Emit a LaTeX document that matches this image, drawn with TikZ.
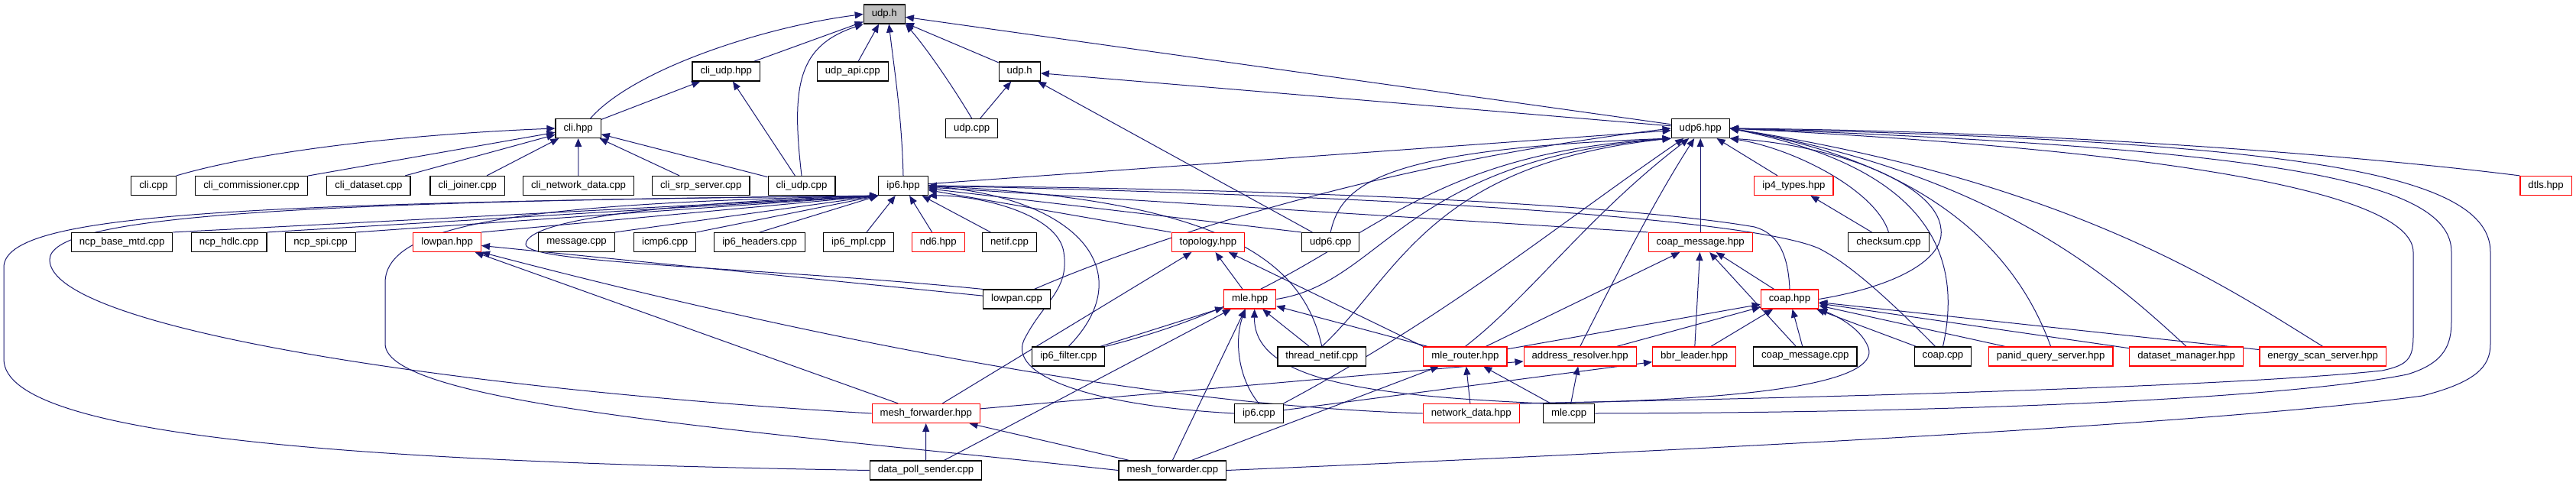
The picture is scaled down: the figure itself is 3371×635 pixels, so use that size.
\documentclass[tikz,border=0pt]{standalone}
\usepackage{fontspec}
\setmainfont{Liberation Sans}
\usetikzlibrary{arrows.meta}
\definecolor{edge}{HTML}{191970}
\definecolor{cutred}{HTML}{FF0000}
\definecolor{rootgray}{HTML}{BFBFBF}
\pgfdeclarelayer{wires}
\pgfsetlayers{wires,main}

\begin{document}
\begin{tikzpicture}[x=1pt,y=-1pt,>={Triangle[length=11pt,width=9pt]},
box/.style={draw,line width=1.2pt,fill=white,minimum height=25pt,inner xsep=10.5pt,
inner ysep=0pt,font=\fontsize{13.2}{15}\selectfont},
cut/.style={box,draw=cutred},
dep/.style={->,draw=edge,line width=1pt}]
\useasboundingbox (0,0) rectangle (3371,635);
\node[box,fill=rootgray] (udph) at (1157.3,18.5) {udp.h};
\node[box] (cliudphpp) at (950.3,93.5) {cli\_udp.hpp};
\node[box] (udpapi) at (1115.8,93.5) {udp\_api.cpp};
\node[box] (udphb) at (1334.2,93.5) {udp.h};
\node[box] (clihpp) at (756.6,168) {cli.hpp};
\node[box] (udpcpp) at (1271.7,168) {udp.cpp};
\node[box] (udpsixhpp) at (2225.2,168) {udp6.hpp};
\node[box] (clicpp) at (201,243) {cli.cpp};
\node[box] (clicomm) at (329,243) {cli\_commissioner.cpp};
\node[box] (clidataset) at (482.4,243) {cli\_dataset.cpp};
\node[box] (clijoiner) at (611.7,243) {cli\_joiner.cpp};
\node[box] (clinetdata) at (757,243) {cli\_network\_data.cpp};
\node[box] (clisrp) at (917.2,243) {cli\_srp\_server.cpp};
\node[box] (cliudpcpp) at (1049,243) {cli\_udp.cpp};
\node[box] (ipsixhpp) at (1182,243) {ip6.hpp};
\node[cut] (ipfourtypes) at (2347.4,243) {ip4\_types.hpp};
\node[cut] (dtls) at (3331.5,243) {dtls.hpp};
\node[box] (ncpbase) at (159.6,317) {ncp\_base\_mtd.cpp};
\node[box] (ncphdlc) at (299.7,317) {ncp\_hdlc.cpp};
\node[box] (ncpspi) at (419.5,317) {ncp\_spi.cpp};
\node[cut] (lowpanhpp) at (585.1,317) {lowpan.hpp};
\node[box] (message) at (754.5,317) {message.cpp};
\node[box] (icmp) at (870.2,317) {icmp6.cpp};
\node[box] (ipheaders) at (994.1,317) {ip6\_headers.cpp};
\node[box] (ipmpl) at (1123.7,317) {ip6\_mpl.cpp};
\node[cut] (ndsix) at (1227.8,317) {nd6.hpp};
\node[box] (netif) at (1321,317) {netif.cpp};
\node[cut] (topology) at (1580.9,317) {topology.hpp};
\node[box] (udpsixcpp) at (1741.2,317) {udp6.cpp};
\node[cut] (coapmsghpp) at (2225.2,317) {coap\_message.hpp};
\node[box] (checksum) at (2471.5,317) {checksum.cpp};
\node[box] (lowpancpp) at (1330.5,391.5) {lowpan.cpp};
\node[cut] (mlehpp) at (1635.7,391.5) {mle.hpp};
\node[cut] (coaphpp) at (2342,391.5) {coap.hpp};
\node[box] (ipfilter) at (1398.3,466.5) {ip6\_filter.cpp};
\node[box] (threadnetif) at (1729.8,466.5) {thread\_netif.cpp};
\node[cut] (mlerouter) at (1917.4,466.5) {mle\_router.hpp};
\node[cut] (addrres) at (2067.7,466.5) {address\_resolver.hpp};
\node[cut] (bbrleader) at (2217.1,466.5) {bbr\_leader.hpp};
\node[box] (coapmsgcpp) at (2362.3,466.5) {coap\_message.cpp};
\node[box] (coapcpp) at (2542.5,466.5) {coap.cpp};
\node[cut] (panid) at (2683.6,466.5) {panid\_query\_server.hpp};
\node[cut] (datasetmgr) at (2861.1,466.5) {dataset\_manager.hpp};
\node[cut] (energyscan) at (3039.7,466.5) {energy\_scan\_server.hpp};
\node[cut] (meshfwdhpp) at (1211.8,541) {mesh\_forwarder.hpp};
\node[box] (ipsixcpp) at (1647.3,541) {ip6.cpp};
\node[cut] (netdata) at (1925.2,541) {network\_data.hpp};
\node[box] (mlecpp) at (2053.1,541) {mle.cpp};
\node[box] (datapoll) at (1211.5,615.5) {data\_poll\_sender.cpp};
\node[box] (meshfwdcpp) at (1534.3,615.5) {mesh\_forwarder.cpp};
\begin{pgfonlayer}{wires}
\draw[dep] ([xshift=16]clihpp.north) .. controls (830,90) and (1000,35) .. (udph.west);
\draw[dep] (cliudphpp) -- (udph);
\draw[dep] (cliudpcpp.north) .. controls (1035,110) and (1045,60) .. (udph.south west);
\draw[dep] (udpapi) -- (udph);
\draw[dep] (ipsixhpp.north) .. controls (1180,150) and (1170,90) .. ([xshift=6]udph.south);
\draw[dep] (udpcpp.north) .. controls (1245,110) and (1210,60) .. (udph.south east);
\draw[dep] (udphb) -- (udph);
\draw[dep] (udpsixhpp) -- (udph);
\draw[dep] (udpcpp) -- (udphb);
\draw[dep] (udpsixhpp) -- (udphb);
\draw[dep] (udpsixcpp) -- (udphb);
\draw[dep] (clihpp) -- (cliudphpp);
\draw[dep] (cliudpcpp) -- (cliudphpp);
\draw[dep] (clicpp.north east) .. controls (350,195) and (550,175) .. (clihpp.west);
\draw[dep] (clicomm) -- (clihpp);\draw[dep] (clidataset) -- (clihpp);
\draw[dep] (clijoiner) -- (clihpp);\draw[dep] (clinetdata) -- (clihpp);
\draw[dep] (clisrp) -- (clihpp);\draw[dep] (cliudpcpp) -- (clihpp);
\draw[dep] (ncpbase.north east) -- (ipsixhpp.south west);\draw[dep] (ncphdlc.north east) -- (ipsixhpp.south west);
\draw[dep] (ncpspi.north east) -- (ipsixhpp.south west);\draw[dep] (lowpanhpp.north east) -- (ipsixhpp.south west);
\draw[dep] (message.north east) -- (ipsixhpp.south west);\draw[dep] (icmp.north east) -- (ipsixhpp.south west);
\draw[dep] (ipheaders.north) -- (ipsixhpp.south west);\draw[dep] (ipmpl) -- (ipsixhpp);
\draw[dep] (ndsix) -- (ipsixhpp);\draw[dep] (netif) -- (ipsixhpp);
\draw[dep] (topology.north west) -- (ipsixhpp);\draw[dep] (udpsixcpp.north west) -- (ipsixhpp);
\draw[dep] (coapmsghpp.north west) -- (ipsixhpp);
\draw[dep] (datapoll.west) .. controls (500,605) and (5,575) .. (5,470) -- (5,350) .. controls (5,280) and (300,266) .. (ipsixhpp.south west);
\draw[dep] (meshfwdhpp.west) .. controls (600,510) and (65,430) .. (65,340) .. controls (65,285) and (350,264) .. (ipsixhpp.south west);
\draw[dep] (meshfwdcpp.west) .. controls (1000,565) and (504,530) .. (504,450) -- (504,370) .. controls (504,290) and (700,266) .. (ipsixhpp.south west);
\draw[dep] (lowpancpp.north west) .. controls (1000,350) and (690,345) .. (688,320) .. controls (688,285) and (900,264) .. (ipsixhpp.south west);
\draw[dep] (coaphpp.north) .. controls (2340,330) and (2325,305) .. (2296,297) .. controls (2200,280) and (1900,250) .. (ipsixhpp.east);
\draw[dep] ([xshift=-10]coapcpp.north) .. controls (2470,390) and (2420,345) .. (2380,325) .. controls (2300,290) and (1900,258) .. (ipsixhpp.east);
\draw[dep] (threadnetif.north) .. controls (1705,340) and (1600,262) .. (ipsixhpp.east);
\draw[dep] (ipfilter.north) .. controls (1490,360) and (1420,262) .. (ipsixhpp.east);
\draw[dep] (ipsixcpp.west) .. controls (1420,530) and (1320,490) .. (1340,445) .. controls (1365,395) and (1400,380) .. (1392,330) .. controls (1385,280) and (1280,255) .. (ipsixhpp.south east);
\draw[dep] (ipsixhpp) -- (udpsixhpp);
\draw[dep] ([xshift=23]lowpancpp.north) .. controls (1500,315) and (1800,215) .. (udpsixhpp.west);
\draw[dep] (udpsixcpp.north) .. controls (1755,240) and (1810,195) .. (udpsixhpp.south west);
\draw[dep] (ipfilter.north east) .. controls (1780,370) and (1800,205) .. (udpsixhpp.south west);
\draw[dep] (mlehpp.east) .. controls (1810,370) and (1835,210) .. (udpsixhpp.south west);
\draw[dep] (threadnetif.north) .. controls (1830,360) and (1870,215) .. (udpsixhpp.south west);
\draw[dep] (ipsixcpp.north east) .. controls (1900,410) and (2030,300) .. ([xshift=-22]udpsixhpp.south);
\draw[dep] (mlerouter.north) .. controls (2000,390) and (2080,280) .. ([xshift=-15]udpsixhpp.south);
\draw[dep] (addrres.north) .. controls (2100,390) and (2160,270) .. ([xshift=-8]udpsixhpp.south);
\draw[dep] (coapmsghpp) -- (udpsixhpp);
\draw[dep] (ipfourtypes) -- (udpsixhpp);
\draw[dep] (checksum) -- (ipfourtypes);
\draw[dep] (checksum.north) .. controls (2455,250) and (2350,195) .. (udpsixhpp.south east);
\draw[dep] (coaphpp.east) .. controls (2480,375) and (2545,340) .. (2540,300) .. controls (2535,240) and (2400,190) .. (udpsixhpp.south east);
\draw[dep] (coapcpp.north) .. controls (2570,330) and (2520,220) .. (udpsixhpp.east);
\draw[dep] (panid.north) .. controls (2650,360) and (2560,220) .. (udpsixhpp.east);
\draw[dep] (datasetmgr.north) .. controls (2770,370) and (2620,230) .. (udpsixhpp.east);
\draw[dep] (energyscan.north) .. controls (2920,380) and (2720,240) .. (udpsixhpp.east);
\draw[dep] (dtls.north west) .. controls (3100,205) and (2700,172) .. (udpsixhpp.east);
\draw[dep] (netdata.north east) .. controls (2300,522) and (2900,508) .. (3117,485) .. controls (3150,478) and (3158,470) .. (3158,440) -- (3158,330) .. controls (3158,260) and (2900,200) .. (udpsixhpp.east);
\draw[dep] (mlecpp.east) .. controls (2600,540) and (3000,520) .. (3150,490) .. controls (3200,475) and (3208,450) .. (3208,420) -- (3208,330) .. controls (3208,240) and (3000,195) .. (udpsixhpp.east);
\draw[dep] (meshfwdcpp.east) .. controls (2200,590) and (2900,555) .. (3170,518) .. controls (3240,500) and (3259,480) .. (3259,450) -- (3259,330) .. controls (3259,225) and (3000,185) .. (udpsixhpp.east);
\draw[dep] (datapoll) -- (meshfwdhpp);\draw[dep] (meshfwdcpp) -- (meshfwdhpp);
\draw[dep] ([xshift=24]datapoll.north) -- (mlehpp);\draw[dep] (meshfwdcpp.north) -- (mlehpp);
\draw[dep] ([xshift=25]meshfwdcpp.north) -- (mlerouter);
\draw[dep] (ipsixcpp.north) .. controls (1620,495) and (1615,445) .. ([xshift=-6]mlehpp.south);
\draw[dep] (mlecpp.north west) .. controls (1800,518) and (1640,500) .. ([xshift=6]mlehpp.south);
\draw[dep] (ipfilter) -- (mlehpp);\draw[dep] (threadnetif) -- (mlehpp);\draw[dep] (mlerouter) -- (mlehpp);
\draw[dep] (meshfwdhpp) -- (topology);\draw[dep] (mlehpp) -- (topology);
\draw[dep] (mlerouter.north west) -- (topology);
\draw[dep] (mlerouter) -- (coapmsghpp);\draw[dep] (mlerouter) -- (coaphpp);
\draw[dep] (meshfwdhpp) -- (addrres);\draw[dep] (ipsixcpp) -- (bbrleader);
\draw[dep] (netdata) -- (mlerouter);\draw[dep] (mlecpp) -- (mlerouter);\draw[dep] (mlecpp) -- (addrres);
\draw[dep] (addrres) -- (coaphpp);\draw[dep] (bbrleader) -- (coaphpp);\draw[dep] (bbrleader) -- (coapmsghpp);
\draw[dep] (coapmsgcpp) -- (coapmsghpp);\draw[dep] (coapmsgcpp) -- (coaphpp);
\draw[dep] (coapcpp) -- (coaphpp);\draw[dep] (coaphpp) -- (coapmsghpp);
\draw[dep] (panid) -- (coaphpp);\draw[dep] (datasetmgr) -- (coaphpp);\draw[dep] (energyscan) -- (coaphpp);
\draw[dep] (netdata.north east) .. controls (2300,525) and (2460,500) .. (2445,455) .. controls (2435,428) and (2400,412) .. (coaphpp.south east);
\draw[dep] (lowpancpp) -- (lowpanhpp);\draw[dep] (meshfwdhpp) -- (lowpanhpp);
\draw[dep] (netdata.west) .. controls (1500,530) and (1050,440) .. (lowpanhpp.south east);
\end{pgfonlayer}
\end{tikzpicture}
\end{document}
